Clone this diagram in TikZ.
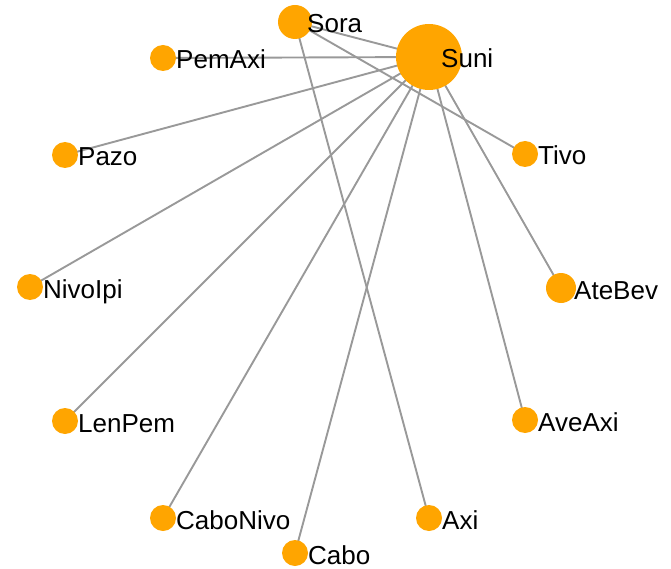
\documentclass[tikz,border=0pt]{standalone}
\usepackage{fontspec}
\setmainfont{Liberation Sans}
\usetikzlibrary{backgrounds}
\definecolor{dotfill}{HTML}{FFA500}
\definecolor{edgegray}{HTML}{999999}
\begin{document}
\begin{tikzpicture}[x=1pt,y=-1pt,
  dot/.style={circle,fill=dotfill,inner sep=0pt,minimum size=#1},
  dot/.default=26pt,
  link/.style={draw=edgegray,line width=1.9pt},
  lbl/.style={anchor=base west,inner sep=0pt,font=\fontsize{26}{26}\selectfont}]
\useasboundingbox (0,0) rectangle (671,569);
% nodes on a circular layout
\node[dot=66pt] (suni) at (429,57) {};
\node[dot=34pt] (sora) at (295,22) {};
\node[dot] (pemaxi) at (163,58) {};
\node[dot] (pazo) at (65,155) {};
\node[dot] (nivoipi) at (30,287) {};
\node[dot] (lenpem) at (65,421) {};
\node[dot] (cabonivo) at (163,518) {};
\node[dot] (cabo) at (295,553) {};
\node[dot] (axi) at (429,518) {};
\node[dot] (aveaxi) at (525,420) {};
\node[dot=30pt] (atebev) at (561,288) {};
\node[dot] (tivo) at (525,154) {};
% links
\begin{scope}[on background layer]
\foreach \t in {sora,pemaxi,pazo,nivoipi,lenpem,cabonivo,cabo,aveaxi,atebev}
  \draw[link] (suni.center) -- (\t.center);
\draw[link] (sora.center) -- (tivo.center);
\draw[link] (sora.center) -- (axi.center);
\end{scope}
% labels
\node[lbl] (suni-l) at (441,68) {Suni};
\node[lbl] (sora-l) at (307,33) {Sora};
\node[lbl] (pemaxi-l) at (176,69) {PemAxi};
\node[lbl] (pazo-l) at (78,166) {Pazo};
\node[lbl] (nivoipi-l) at (43,298) {NivoIpi};
\node[lbl] (lenpem-l) at (78,432) {LenPem};
\node[lbl] (cabonivo-l) at (176,529) {CaboNivo};
\node[lbl] (cabo-l) at (308,564) {Cabo};
\node[lbl] (axi-l) at (442,529) {Axi};
\node[lbl] (aveaxi-l) at (538,431) {AveAxi};
\node[lbl] (atebev-l) at (574,299) {AteBev};
\node[lbl] (tivo-l) at (538,165) {Tivo};
\end{tikzpicture}
\end{document}
